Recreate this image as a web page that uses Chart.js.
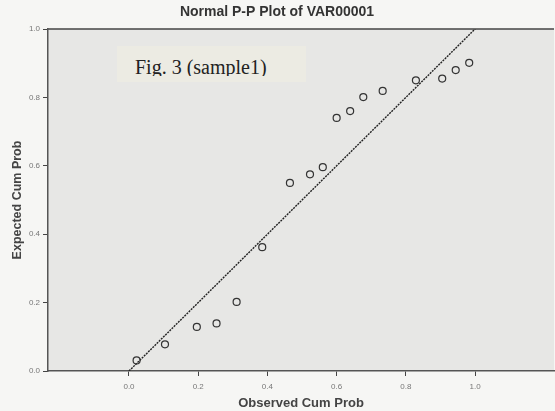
<!DOCTYPE html>
<html>
<head>
<meta charset="utf-8">
<script src="https://cdn.jsdelivr.net/npm/chart.js@4/dist/chart.umd.min.js"></script>
<style>
  html, body { margin: 0; padding: 0; background: #f6f6f4; }
  #wrap { position: relative; width: 555px; height: 411px; }
  #c { position: absolute; left: 0; top: 0; }
  #fig { position: absolute; left: 117px; top: 46px; width: 189px; height: 36px;
         background: #ecebe3; box-sizing: border-box; padding: 10px 0 0 18px; }
  #figText { font-family: "Liberation Serif", "DejaVu Serif", serif; font-size: 20px; color: #222;
             line-height: 22px; height: 20px; overflow: hidden; white-space: nowrap; }
</style>
</head>
<body>
<div id="wrap">
  <canvas id="c" width="555" height="411"></canvas>
  <div id="fig"><div id="figText">Fig. 3 (sample1)</div></div>
</div>
<script>
const chartTitle = "Normal P-P Plot of VAR00001";
const xTitle = "Observed Cum Prob";
const yTitle = "Expected Cum Prob";
const tickValues = [0.0, 0.2, 0.4, 0.6, 0.8, 1.0];
const observed = [0.022, 0.104, 0.196, 0.253, 0.311, 0.385, 0.465, 0.523, 0.560, 0.600, 0.639, 0.677, 0.733, 0.829, 0.905, 0.944, 0.983];
const expected = [0.031, 0.078, 0.129, 0.139, 0.202, 0.362, 0.550, 0.575, 0.596, 0.740, 0.760, 0.801, 0.819, 0.850, 0.855, 0.880, 0.901];
const refLine = [0, 1];

const plotBg = {
  id: 'plotBg',
  beforeDraw(chart) {
    const {ctx, chartArea: a} = chart;
    ctx.save();
    ctx.fillStyle = '#e7e7e5';
    ctx.fillRect(a.left, a.top, a.right - a.left, a.bottom - a.top);
    ctx.strokeStyle = '#444';
    ctx.lineWidth = 1.5;
    ctx.beginPath();
    ctx.moveTo(a.left, a.top);
    ctx.lineTo(a.right, a.top);
    ctx.stroke();
    ctx.restore();
  }
};

new Chart(document.getElementById('c'), {
  type: 'scatter',
  data: {
    datasets: [
      {
        data: observed.map((x, i) => ({x: x, y: expected[i]})),
        pointStyle: 'circle',
        pointRadius: 3.5,
        pointBorderWidth: 1.2,
        pointBorderColor: '#333',
        pointBackgroundColor: 'rgba(0,0,0,0)',
        showLine: false,
        order: 1
      },
      {
        data: refLine.map(v => ({x: v, y: v})),
        showLine: true,
        borderColor: '#222',
        borderWidth: 1.4,
        borderDash: [2, 1],
        pointRadius: 0,
        order: 2
      }
    ]
  },
  options: {
    responsive: false,
    animation: false,
    layout: { autoPadding: false, padding: { left: 0, right: 1, top: 0, bottom: 0 } },
    plugins: {
      legend: { display: false },
      tooltip: { enabled: false },
      title: {
        display: true,
        text: chartTitle,
        color: '#333',
        font: { family: 'Liberation Sans, Arial, sans-serif', size: 14, weight: 'bold' },
        padding: { top: 4, bottom: 8.2 }
      }
    },
    scales: {
      x: {
        type: 'linear',
        min: -0.234,
        max: 1.228,
        afterBuildTicks(s) { s.ticks = tickValues.map(v => ({value: v})); },
        afterFit(s) { s.height = 40; s.paddingLeft = 0; s.paddingRight = 0; },
        grid: { drawOnChartArea: false, drawTicks: true, tickLength: 5, color: '#444' },
        border: { display: true, color: '#555', width: 1.5 },
        ticks: {
          color: '#777',
          font: { family: 'Liberation Sans, Arial, sans-serif', size: 8 },
          padding: 6,
          maxRotation: 0,
          callback: v => v.toFixed(1)
        },
        title: {
          display: true,
          text: xTitle,
          color: '#444',
          font: { family: 'Liberation Sans, Arial, sans-serif', size: 13, weight: 'bold' },
          padding: { top: 0, bottom: 0 }
        }
      },
      y: {
        type: 'linear',
        min: 0,
        max: 1,
        afterBuildTicks(s) { s.ticks = tickValues.map(v => ({value: v})); },
        afterFit(s) { s.width = 48; },
        grid: { drawOnChartArea: false, drawTicks: true, tickLength: 5, color: '#444' },
        border: { display: true, color: '#555', width: 1.5 },
        ticks: {
          color: '#777',
          font: { family: 'Liberation Sans, Arial, sans-serif', size: 8 },
          padding: 3,
          callback: v => v.toFixed(1)
        },
        title: {
          display: true,
          text: yTitle,
          color: '#444',
          font: { family: 'Liberation Sans, Arial, sans-serif', size: 12.5, weight: 'bold' },
          padding: { top: 10, bottom: 0 }
        }
      }
    }
  },
  plugins: [plotBg]
});
</script>
</body>
</html>
